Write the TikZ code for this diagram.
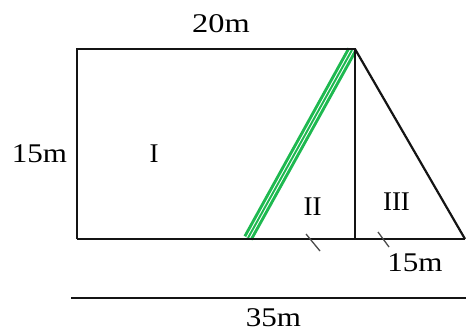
\documentclass[tikz,border=0pt]{standalone}
\usepackage{fontspec}
\setmainfont{Liberation Serif}
\definecolor{bandgreen}{RGB}{30,185,80}
\definecolor{inkgray}{RGB}{20,20,20}
\begin{document}
\begin{tikzpicture}[x=1pt,y=-1pt,
  edge/.style={draw=inkgray,line width=2.2pt},
  tick/.style={draw=black!70,line width=1.3pt},
  lab/.style={inner sep=0pt,anchor=base,font=\fontsize{27}{30}\selectfont},
  band/.style={line width=10pt,draw=bandgreen},
  bandstripes/.style={draw=white,line width=1pt,double=bandgreen,double distance=2pt}]
\useasboundingbox[fill=white] (0,0) rectangle (466,332);
% corners
\coordinate (tl) at (77,49);
\coordinate (tr) at (355,49);
\coordinate (bl) at (77,239);
\coordinate (bm) at (355,239);
\coordinate (br) at (465,239);
\coordinate (dimL) at (71,298);
\coordinate (dimR) at (466,298);
\coordinate (gTop) at (352,50);
\coordinate (gBot) at (248,238);
\coordinate (t1a) at (306,234);
\coordinate (t1b) at (320,251);
\coordinate (t2a) at (378,232);
\coordinate (t2b) at (389,247);
% green band
\draw[band] (gBot) -- (gTop);
\draw[bandstripes] (gBot) -- (gTop);
% shape
\draw[edge] (bl) -- (tl) -- (tr) -- (bm);
\draw[edge] (tr) -- (br);
\draw[edge] (bl) -- (br);
\draw[edge,line width=1.6pt] (dimL) -- (dimR);
% ticks
\draw[tick] (t1a) -- (t1b);
\draw[tick] (t2a) -- (t2b);
% labels
\node[lab] (l20) at (221,32) {\scalebox{1.2}[1]{20m}};
\node[lab] (l15a) at (39.5,162) {\scalebox{1.15}[1]{15m}};
\node[lab] (lI) at (154,162) {I};
\node[lab] (lII) at (312.5,215) {II};
\node[lab] (lIII) at (396.5,210) {III};
\node[lab] (l15b) at (415,271) {\scalebox{1.15}[1]{15m}};
\node[lab] (l35) at (273.5,326) {\scalebox{1.15}[1]{35m}};
\end{tikzpicture}
\end{document}
